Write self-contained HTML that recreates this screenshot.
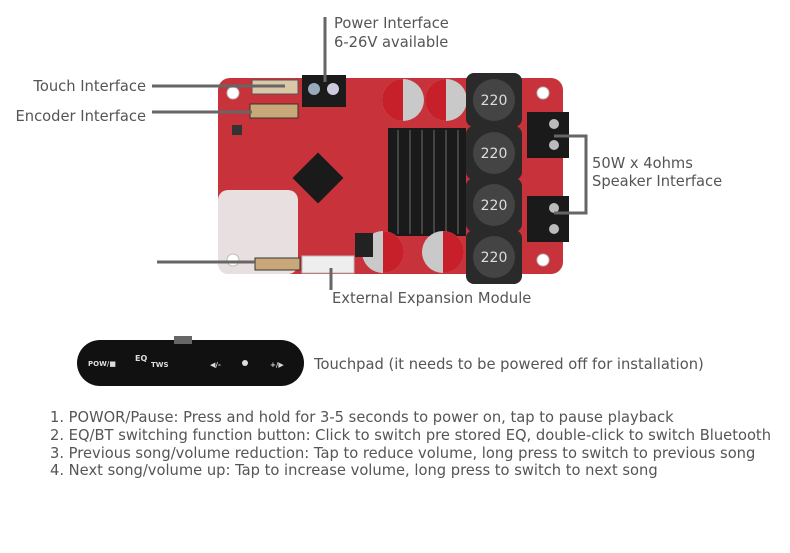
<!DOCTYPE html>
<html><head><style>
body{margin:0;background:#fff;width:790px;height:553px;overflow:hidden}
svg{display:block}
text{font-family:"DejaVu Sans","Liberation Sans",sans-serif;fill:#555;font-size:14.7px}
</style></head><body>
<svg width="790" height="553" viewBox="0 0 790 553">
<!-- board -->
<rect x="218" y="78" width="345" height="196" rx="12" fill="#c8323a"/>
<rect x="218" y="190" width="80" height="84" rx="10" fill="#e8e0e0"/>
<circle cx="233" cy="93" r="6" fill="#fff" stroke="#bbb"/>
<circle cx="233" cy="260" r="6" fill="#fff" stroke="#bbb"/>
<circle cx="543" cy="260" r="6" fill="#fff" stroke="#bbb"/>
<circle cx="543" cy="93" r="6" fill="#fff" stroke="#bbb"/>
<rect x="252" y="80" width="46" height="14" fill="#d9c7a8" stroke="#555"/>
<rect x="250" y="104" width="48" height="14" fill="#c8a878" stroke="#333"/>
<rect x="255" y="258" width="45" height="12" fill="#c8a878" stroke="#333"/>
<rect x="302" y="256" width="52" height="17" fill="#eee" stroke="#bbb"/>
<rect x="302" y="75" width="44" height="32" fill="#1b1b1b"/>
<circle cx="314" cy="89" r="6" fill="#9ab"/><circle cx="333" cy="89" r="6" fill="#ccd"/>
<rect x="300" y="160" width="36" height="36" fill="#1a1a1a" transform="rotate(45 318 178)"/>
<rect x="232" y="125" width="10" height="10" fill="#333"/>
<rect x="388" y="128" width="78" height="108" fill="#1a1a1a"/>
<g stroke="#444" stroke-width="2"><line x1="398" y1="130" x2="398" y2="234"/><line x1="410" y1="130" x2="410" y2="234"/><line x1="422" y1="130" x2="422" y2="234"/><line x1="434" y1="130" x2="434" y2="234"/><line x1="446" y1="130" x2="446" y2="234"/><line x1="458" y1="130" x2="458" y2="234"/></g>
<g><circle cx="403" cy="100" r="21" fill="#c9c9c9"/><path d="M382 100a21 21 0 0 1 21-21v42a21 21 0 0 1-21-21z" fill="#c8202a"/>
<circle cx="446" cy="100" r="21" fill="#c9c9c9"/><path d="M425 100a21 21 0 0 1 21-21v42a21 21 0 0 1-21-21z" fill="#c8202a"/>
<circle cx="383" cy="252" r="21" fill="#c9c9c9"/><path d="M404 252a21 21 0 0 1-21 21v-42a21 21 0 0 1 21 21z" fill="#c8202a"/>
<circle cx="443" cy="252" r="21" fill="#c9c9c9"/><path d="M464 252a21 21 0 0 1-21 21v-42a21 21 0 0 1 21 21z" fill="#c8202a"/></g>
<rect x="355" y="233" width="18" height="24" fill="#222"/>
<g fill="#2a2a2a"><rect x="466" y="73" width="56" height="54" rx="8"/><rect x="466" y="126" width="56" height="54" rx="8"/><rect x="466" y="178" width="56" height="54" rx="8"/><rect x="466" y="230" width="56" height="54" rx="8"/></g>
<g fill="#444"><circle cx="494" cy="100" r="21"/><circle cx="494" cy="153" r="21"/><circle cx="494" cy="205" r="21"/><circle cx="494" cy="257" r="21"/></g>
<g text-anchor="middle"><text x="494" y="105" style="fill:#ddd;font-size:14px">220</text><text x="494" y="158" style="fill:#ddd;font-size:14px">220</text><text x="494" y="210" style="fill:#ddd;font-size:14px">220</text><text x="494" y="262" style="fill:#ddd;font-size:14px">220</text></g>
<rect x="527" y="112" width="42" height="46" fill="#1a1a1a"/>
<rect x="527" y="196" width="42" height="46" fill="#1a1a1a"/>
<g fill="#bbb"><circle cx="554" cy="124" r="5"/><circle cx="554" cy="145" r="5"/><circle cx="554" cy="208" r="5"/><circle cx="554" cy="229" r="5"/></g>
<g stroke="#666" stroke-width="3" fill="none">
<line x1="152" y1="86" x2="285" y2="86"/>
<line x1="152" y1="112" x2="252" y2="112"/>
<line x1="157" y1="262" x2="255" y2="262"/>
<line x1="325" y1="17" x2="325" y2="82"/>
<line x1="331" y1="268" x2="331" y2="290"/>
<polyline points="554,136 586,136 586,213 554,213"/>
</g>
<text x="146" y="91" text-anchor="end">Touch Interface</text>
<text x="146" y="121" text-anchor="end">Encoder Interface</text>
<text x="334" y="28">Power Interface</text>
<text x="334" y="47">6-26V available</text>
<text x="592" y="168">50W x 4ohms</text>
<text x="592" y="186">Speaker Interface</text>
<text x="332" y="303">External Expansion Module</text>
<rect x="77" y="340" width="227" height="46" rx="23" fill="#111"/>
<rect x="174" y="336" width="18" height="8" fill="#666"/>
<g font-weight="bold"><text x="88" y="366" style="fill:#ddd;font-size:7px">POW/■</text><text x="135" y="361" style="fill:#ddd;font-size:8px">EQ</text><text x="151" y="367" style="fill:#ddd;font-size:7px">TWS</text><text x="210" y="367" style="fill:#ddd;font-size:7px">◀/-</text><text x="270" y="367" style="fill:#ddd;font-size:7px">+/▶</text></g>
<circle cx="245" cy="363" r="3" fill="#ddd"/>
<text x="314" y="369">Touchpad (it needs to be powered off for installation)</text>
<text x="50" y="422">1. POWOR/Pause: Press and hold for 3-5 seconds to power on, tap to pause playback</text>
<text x="50" y="440">2. EQ/BT switching function button: Click to switch pre stored EQ, double-click to switch Bluetooth</text>
<text x="50" y="458">3. Previous song/volume reduction: Tap to reduce volume, long press to switch to previous song</text>
<text x="50" y="475">4. Next song/volume up: Tap to increase volume, long press to switch to next song</text>
</svg>
</body></html>
